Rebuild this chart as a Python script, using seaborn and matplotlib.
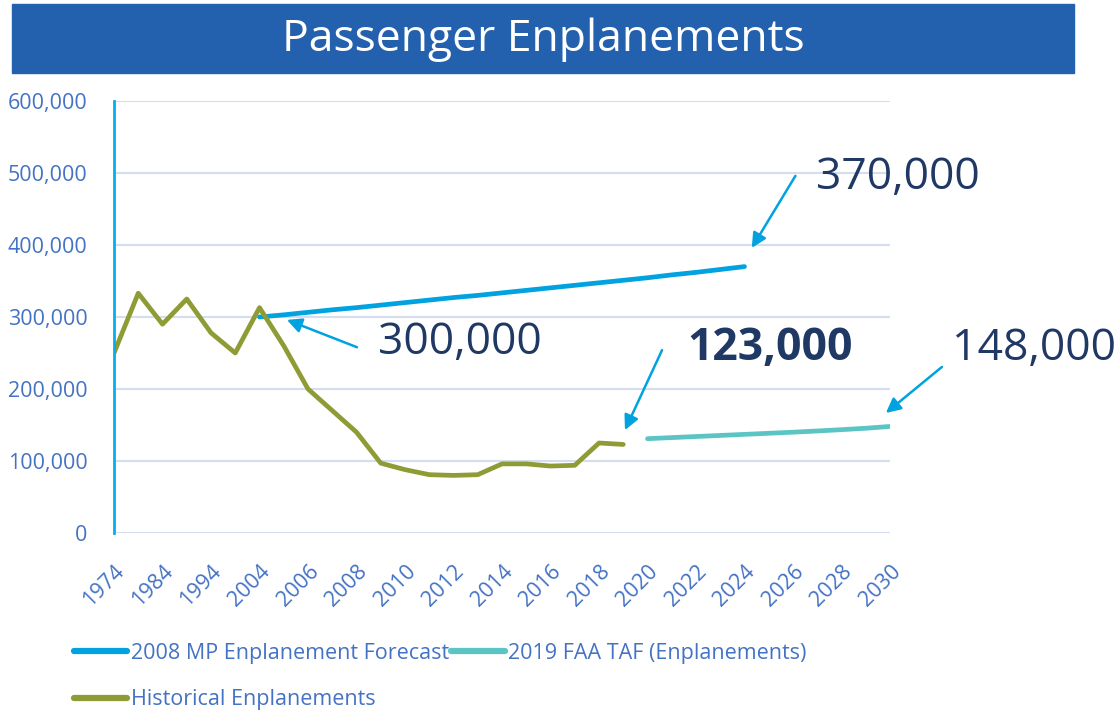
import pandas as pd
import seaborn as sns
import matplotlib.pyplot as plt
from matplotlib.patches import Rectangle
from matplotlib.ticker import FuncFormatter

# ----------------------------
# Data
# ----------------------------
years = [1974, 1979, 1984, 1989, 1994, 1999] + list(range(2004, 2031))

hist_years = [1974, 1979, 1984, 1989, 1994, 1999, 2004, 2005, 2006, 2007, 2008,
              2009, 2010, 2011, 2012, 2013, 2014, 2015, 2016, 2017, 2018, 2019]
hist_values = [250000, 333000, 290000, 325000, 278000, 250000, 313000, 260000,
               200000, 170000, 140000, 97000, 88000, 81000, 80000, 81000,
               96000, 96000, 93000, 94000, 125000, 123000]

mp_years = list(range(2004, 2025))
mp_values = [300000, 303000, 306500, 310000, 313000, 316500, 320000, 323500,
             327000, 330000, 333500, 337000, 340500, 344000, 347500, 351000,
             354500, 358500, 362000, 366000, 370000]

taf_years = list(range(2020, 2031))
taf_values = [131000, 132500, 134000, 135500, 137000, 138500, 140000, 141700,
              143500, 145500, 148000]

series_names = ["2008 MP Enplanement Forecast", "2019 FAA TAF (Enplanements)",
                "Historical Enplanements"]

rows = []
for name, yrs, vals in zip(series_names,
                           [mp_years, taf_years, hist_years],
                           [mp_values, taf_values, hist_values]):
    for y, v in zip(yrs, vals):
        rows.append({"series": name, "pos": years.index(y), "value": v})
df = pd.DataFrame(rows)

# ----------------------------
# Plot
# ----------------------------
sns.set_style("white")
plt.rcParams["font.family"] = ["Open Sans", "DejaVu Sans"]

blue_txt = "#4472C4"
navy = "#1F3864"
arrow_c = "#00A2E0"
palette = {series_names[0]: "#00A2E0",
           series_names[1]: "#5BC5C5",
           series_names[2]: "#8F9C36"}

fig = plt.figure(figsize=(11.17, 7.10), dpi=100)
ax = fig.add_axes([114 / 1117, 1 - 533 / 710, 776 / 1117, 432 / 710])

sns.lineplot(data=df, x="pos", y="value", hue="series", palette=palette,
             linewidth=3.4, ax=ax, legend=False, solid_capstyle="round")

ax.set_xlim(0, len(years) - 1)
ax.set_ylim(0, 600000)
ax.set_yticks(range(0, 600001, 100000))
ax.yaxis.set_major_formatter(FuncFormatter(lambda v, p: f"{int(v):,}"))
ax.set_xticks(range(0, len(years), 2))
ax.set_xticklabels([str(years[i]) for i in range(0, len(years), 2)],
                   rotation=45, ha="right", rotation_mode="anchor")
ax.tick_params(axis="both", colors=blue_txt, labelsize=15.5, length=0)
ax.tick_params(axis="y", pad=19)
ax.tick_params(axis="x", pad=20)
ax.set_xlabel("")
ax.set_ylabel("")
ax.grid(axis="y", color="#D5DDF0", linewidth=1.5)
ax.set_axisbelow(True)
for s in ["top", "right", "bottom"]:
    ax.spines[s].set_visible(False)
ax.spines["left"].set_color("#00B0F0")
ax.spines["left"].set_linewidth(2)

# ----------------------------
# Annotations
# ----------------------------
arrows = [
    ((26.3, 396000), (28.1, 496000)),
    ((7.13, 296000), (10.02, 258000)),
    ((21.07, 143000), (22.6, 254000)),
    ((31.83, 166700), (34.14, 230600)),
]
for tip, tail in arrows:
    ax.annotate("", xy=tip, xytext=tail, annotation_clip=False,
                arrowprops=dict(arrowstyle="-|>", color=arrow_c, lw=1.8,
                                mutation_scale=22, shrinkA=0, shrinkB=0))

ax.text(28.95, 493000, "370,000", fontsize=32, color=navy, va="center", ha="left")
ax.text(10.9, 264000, "300,000", fontsize=32, color=navy, va="center", ha="left")
ax.text(27.05, 256000, "123,000", fontsize=32, color=navy, va="center",
        ha="center", fontweight="bold")
ax.text(34.55, 256000, "148,000", fontsize=32, color=navy, va="center", ha="left")

# ----------------------------
# Title banner
# ----------------------------
fig.patches.append(Rectangle((12 / 1117, 1 - 73 / 710), 1062 / 1117, 69 / 710,
                             transform=fig.transFigure, color="#2360AE", zorder=0))
fig.text(543 / 1117, 1 - 40 / 710, "Passenger Enplanements", color="white",
         fontsize=32, ha="center", va="center")

# ----------------------------
# Legend
# ----------------------------
lines = {name: plt.Line2D([], [], color=palette[name], linewidth=4.5,
                          solid_capstyle="round") for name in series_names}
order = [series_names[0], series_names[2], series_names[1]]
fig.legend([lines[n] for n in order], order, ncol=2, frameon=False,
           loc="upper left", bbox_to_anchor=(65 / 1117, 1 - 634 / 710),
           fontsize=15.5, labelcolor=blue_txt, handlelength=2.5, handletextpad=0.15,
           columnspacing=0.1, labelspacing=1.2, borderaxespad=0)

fig.savefig("out.png", dpi=100)
